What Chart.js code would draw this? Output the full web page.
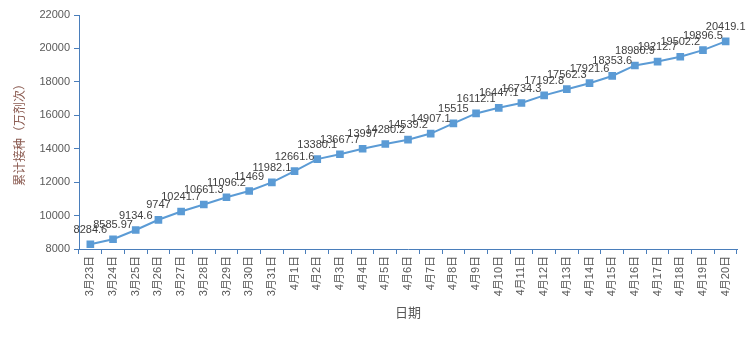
<!DOCTYPE html>
<html>
<head>
<meta charset="utf-8">
<script src="https://cdn.jsdelivr.net/npm/chart.js@4/dist/chart.umd.min.js"></script>
<style>
  html, body { margin: 0; padding: 0; background: #fff; }
  canvas { display: block; }
</style>
</head>
<body>
<canvas id="chart" width="752" height="338"></canvas>
<script>
const dates = [
  "3月23日", "3月24日", "3月25日", "3月26日", "3月27日", "3月28日", "3月29日", "3月30日", "3月31日",
  "4月1日", "4月2日", "4月3日", "4月4日", "4月5日", "4月6日", "4月7日", "4月8日", "4月9日", "4月10日",
  "4月11日", "4月12日", "4月13日", "4月14日", "4月15日", "4月16日", "4月17日", "4月18日", "4月19日", "4月20日"
];
const doses = [
  8284.6, 8585.97, 9134.6, 9747, 10241.7, 10661.3, 11096.2, 11469, 11982.1,
  12661.6, 13380.1, 13667.7, 13997, 14280.2, 14539.2, 14907.1, 15515, 16112.1, 16447.1,
  16734.3, 17192.8, 17562.3, 17921.6, 18353.6, 18980.9, 19212.7, 19502.2, 19896.5, 20419.1
];
const yMin = 8000;
const yMax = 22000;
const yStep = 2000;

const FONT = "'Liberation Sans', 'Noto Sans CJK SC', sans-serif";
const AXIS = "#4a7ebb";
const TEXT = "#595959";

// value labels above each marker
const valueLabels = {
  id: "valueLabels",
  afterDatasetsDraw(chart) {
    const { ctx } = chart;
    const meta = chart.getDatasetMeta(0);
    ctx.save();
    ctx.font = "11px " + FONT;
    ctx.fillStyle = "#404040";
    ctx.textAlign = "center";
    ctx.textBaseline = "bottom";
    meta.data.forEach((pt, i) => {
      ctx.fillText(String(doses[i]), pt.x, pt.y - 9);
    });
    ctx.restore();
  }
};

new Chart(document.getElementById("chart"), {
  type: "line",
  data: {
    labels: dates,
    datasets: [{
      data: doses,
      borderColor: "#5b9bd5",
      backgroundColor: "#5b9bd5",
      borderWidth: 2,
      pointStyle: "rect",
      pointRadius: 4,
      pointHoverRadius: 4,
      tension: 0
    }]
  },
  options: {
    responsive: false,
    animation: false,
    devicePixelRatio: 1,
    layout: { padding: { top: 15, right: 15, left: 0, bottom: 0 } },
    plugins: { legend: { display: false }, tooltip: { enabled: false } },
    scales: {
      x: {
        offset: true,
        grid: { drawOnChartArea: false, color: AXIS, tickLength: 5, offset: true },
        border: { color: AXIS, width: 1 },
        ticks: {
          color: TEXT,
          font: { size: 11, family: FONT },
          minRotation: 90,
          maxRotation: 90,
          autoSkip: false,
          padding: 2
        },
        title: {
          display: true,
          text: "日期",
          color: TEXT,
          font: { size: 13, family: FONT },
          padding: { top: 0, bottom: 17 }
        },
        afterFit(scale) { scale.height = 89; }
      },
      y: {
        min: yMin,
        max: yMax,
        grid: { drawOnChartArea: false, color: AXIS, tickLength: 5 },
        border: { color: AXIS, width: 1 },
        ticks: {
          stepSize: yStep,
          color: TEXT,
          font: { size: 11, family: FONT },
          padding: 4,
          callback: (v) => String(v)
        },
        title: {
          display: true,
          text: "累计接种（万剂次）",
          color: "#8a5a50",
          font: { size: 12, family: FONT },
          padding: { top: 13, bottom: 0 }
        },
        afterFit(scale) { scale.width = 79; }
      }
    }
  },
  plugins: [valueLabels]
});
</script>
</body>
</html>
